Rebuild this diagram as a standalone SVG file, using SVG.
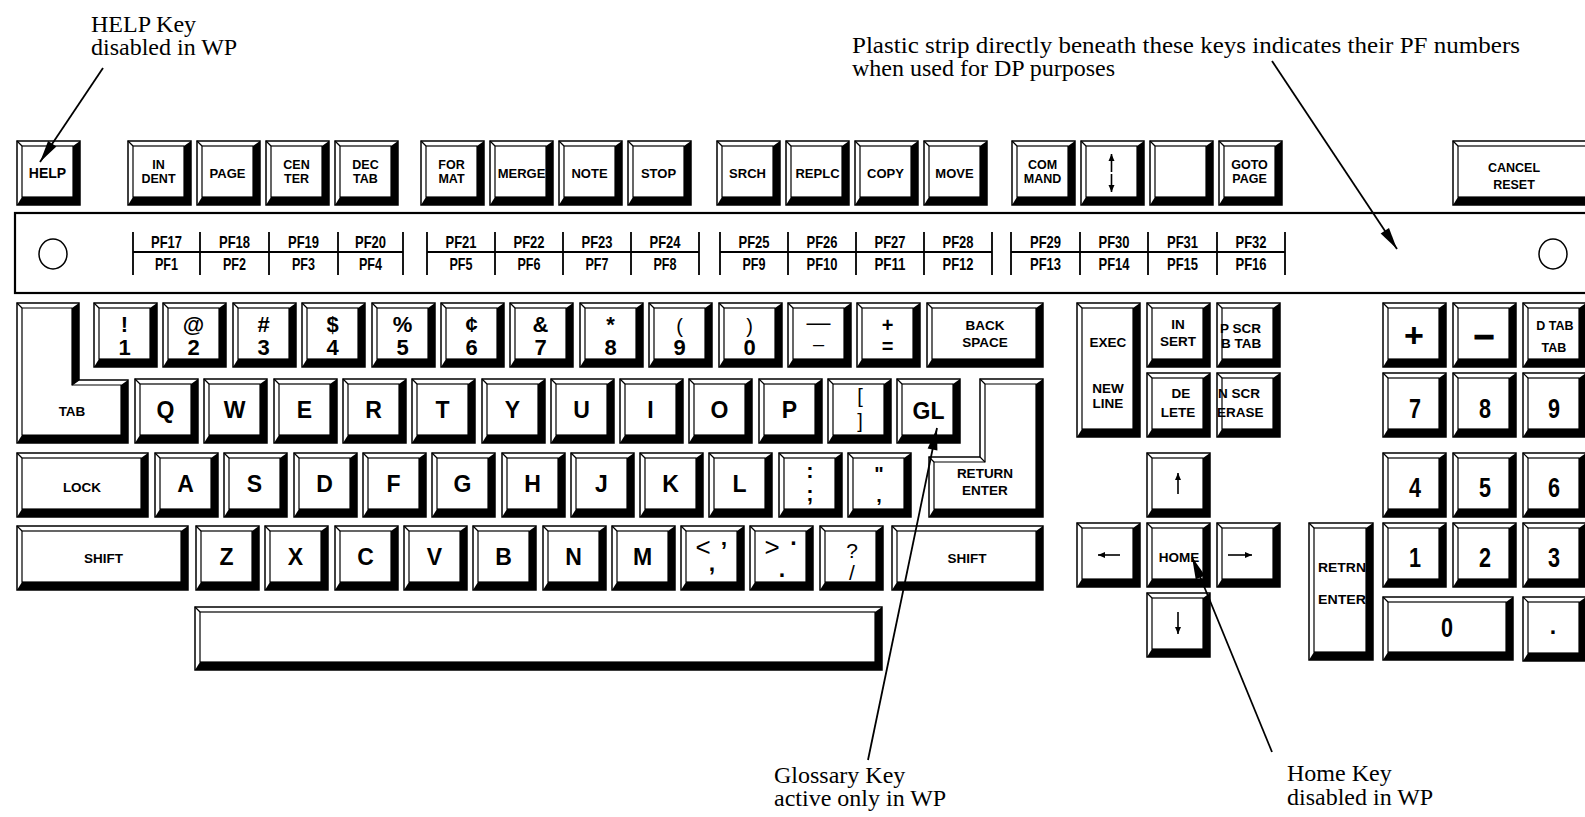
<svg xmlns="http://www.w3.org/2000/svg" width="1585" height="817" viewBox="0 0 1585 817">
<defs>
<style>
.o{fill:#fff;stroke:#000;stroke-width:1.5}
.s{fill:#000}
.f{fill:#fff;stroke:#000;stroke-width:1.2}
.d{stroke:#000;stroke-width:1.2;fill:none}
.t{font-family:"Liberation Sans",Arial,sans-serif;font-weight:bold;text-anchor:middle;fill:#000}
.st{text-anchor:start}
.L{font-size:23px}
.N{font-size:22px}
.G{font-size:23px}
.W{font-size:20px;font-weight:normal}
.S{font-size:12.5px}
.M{font-size:13px}
.T{font-size:13.5px}
.n{font-size:28px}
.pf{font-size:17px}
.c{font-family:"Liberation Serif","Times New Roman",serif;font-size:24px;fill:#000}
.ln{stroke:#000;stroke-width:1.8;fill:none}
.pl{stroke:#000;stroke-width:1.8;fill:none}
.ka{stroke:#000;stroke-width:1.6;fill:none}
</style>
<g id="k"><rect class="o" width="63" height="64"/><path class="s" d="M63,0V64H0L5,56H56V5Z"/><rect class="f" x="5" y="5" width="51" height="51"/><path class="d" d="M0,0L5,5"/></g>
<marker id="ar" markerUnits="userSpaceOnUse" viewBox="-23 -6 24 12" markerWidth="24" markerHeight="12" refX="0" refY="0" orient="auto"><path d="M0,0L-22,-5L-22,5Z" fill="#000"/></marker>
<marker id="sa" markerUnits="userSpaceOnUse" viewBox="-8 -4 9 8" markerWidth="9" markerHeight="8" refX="0" refY="0" orient="auto"><path d="M0,0L-7,-3L-7,3Z" fill="#000"/></marker>
</defs>
<rect width="1585" height="817" fill="#fff"/>

<g id="annotations">
<text class="c" x="91" y="32">HELP Key</text>
<text class="c" x="91" y="55">disabled in WP</text>
<text class="c" x="852" y="53" textLength="668" lengthAdjust="spacingAndGlyphs">Plastic strip directly beneath these keys indicates their PF numbers</text>
<text class="c" x="852" y="76">when used for DP purposes</text>
<text class="c" x="774" y="783">Glossary Key</text>
<text class="c" x="774" y="806">active only in WP</text>
<text class="c" x="1287" y="781">Home Key</text>
<text class="c" x="1287" y="805">disabled in WP</text>
</g>

<g id="strip">
<rect x="15" y="213" width="1600" height="80" fill="none" stroke="#000" stroke-width="2.2"/>
<ellipse cx="53" cy="254" rx="14" ry="15" fill="none" stroke="#000" stroke-width="1.5"/>
<ellipse cx="1553" cy="254" rx="14" ry="15" fill="none" stroke="#000" stroke-width="1.5"/>
<path class="pl" d="M133,252H403M133,232V275M200,232V275M269,232V275M338,232V275M403,232V275"/>
<path class="pl" d="M427,252H699M427,232V275M495,232V275M563,232V275M631,232V275M699,232V275"/>
<path class="pl" d="M720,252H992M720,232V275M788,232V275M856,232V275M924,232V275M992,232V275"/>
<path class="pl" d="M1011,252H1285M1011,232V275M1080,232V275M1148,232V275M1217,232V275M1285,232V275"/>
<g class="t pf">
<text x="166.5" y="248" textLength="31" lengthAdjust="spacingAndGlyphs">PF17</text><text x="166.5" y="270" textLength="23" lengthAdjust="spacingAndGlyphs">PF1</text>
<text x="234.5" y="248" textLength="31" lengthAdjust="spacingAndGlyphs">PF18</text><text x="234.5" y="270" textLength="23" lengthAdjust="spacingAndGlyphs">PF2</text>
<text x="303.5" y="248" textLength="31" lengthAdjust="spacingAndGlyphs">PF19</text><text x="303.5" y="270" textLength="23" lengthAdjust="spacingAndGlyphs">PF3</text>
<text x="370.5" y="248" textLength="31" lengthAdjust="spacingAndGlyphs">PF20</text><text x="370.5" y="270" textLength="23" lengthAdjust="spacingAndGlyphs">PF4</text>
<text x="461" y="248" textLength="31" lengthAdjust="spacingAndGlyphs">PF21</text><text x="461" y="270" textLength="23" lengthAdjust="spacingAndGlyphs">PF5</text>
<text x="529" y="248" textLength="31" lengthAdjust="spacingAndGlyphs">PF22</text><text x="529" y="270" textLength="23" lengthAdjust="spacingAndGlyphs">PF6</text>
<text x="597" y="248" textLength="31" lengthAdjust="spacingAndGlyphs">PF23</text><text x="597" y="270" textLength="23" lengthAdjust="spacingAndGlyphs">PF7</text>
<text x="665" y="248" textLength="31" lengthAdjust="spacingAndGlyphs">PF24</text><text x="665" y="270" textLength="23" lengthAdjust="spacingAndGlyphs">PF8</text>
<text x="754" y="248" textLength="31" lengthAdjust="spacingAndGlyphs">PF25</text><text x="754" y="270" textLength="23" lengthAdjust="spacingAndGlyphs">PF9</text>
<text x="822" y="248" textLength="31" lengthAdjust="spacingAndGlyphs">PF26</text><text x="822" y="270" textLength="31" lengthAdjust="spacingAndGlyphs">PF10</text>
<text x="890" y="248" textLength="31" lengthAdjust="spacingAndGlyphs">PF27</text><text x="890" y="270" textLength="31" lengthAdjust="spacingAndGlyphs">PF11</text>
<text x="958" y="248" textLength="31" lengthAdjust="spacingAndGlyphs">PF28</text><text x="958" y="270" textLength="31" lengthAdjust="spacingAndGlyphs">PF12</text>
<text x="1045.5" y="248" textLength="31" lengthAdjust="spacingAndGlyphs">PF29</text><text x="1045.5" y="270" textLength="31" lengthAdjust="spacingAndGlyphs">PF13</text>
<text x="1114" y="248" textLength="31" lengthAdjust="spacingAndGlyphs">PF30</text><text x="1114" y="270" textLength="31" lengthAdjust="spacingAndGlyphs">PF14</text>
<text x="1182.5" y="248" textLength="31" lengthAdjust="spacingAndGlyphs">PF31</text><text x="1182.5" y="270" textLength="31" lengthAdjust="spacingAndGlyphs">PF15</text>
<text x="1251" y="248" textLength="31" lengthAdjust="spacingAndGlyphs">PF32</text><text x="1251" y="270" textLength="31" lengthAdjust="spacingAndGlyphs">PF16</text>
</g>
</g>

<!-- top row -->
<g id="key-help"><use href="#k" x="17" y="141"/><text class="t" style="font-size:14px" x="47.5" y="178">HELP</text></g>
<g id="key-indent"><use href="#k" x="128" y="141"/><text class="t S" x="158.5" y="169">IN</text><text class="t S" x="158.5" y="183">DENT</text></g>
<g id="key-page"><use href="#k" x="197" y="141"/><text class="t M" x="227.5" y="178">PAGE</text></g>
<g id="key-center"><use href="#k" x="266" y="141"/><text class="t S" x="296.5" y="169">CEN</text><text class="t S" x="296.5" y="183">TER</text></g>
<g id="key-dectab"><use href="#k" x="335" y="141"/><text class="t S" x="365.5" y="169">DEC</text><text class="t S" x="365.5" y="183">TAB</text></g>
<g id="key-format"><use href="#k" x="421" y="141"/><text class="t S" x="451.5" y="169">FOR</text><text class="t S" x="451.5" y="183">MAT</text></g>
<g id="key-merge"><use href="#k" x="490" y="141"/><text class="t M" x="521.5" y="178">MERGE</text></g>
<g id="key-note"><use href="#k" x="559" y="141"/><text class="t M" x="589.5" y="178">NOTE</text></g>
<g id="key-stop"><use href="#k" x="628" y="141"/><text class="t M" x="658.5" y="178">STOP</text></g>
<g id="key-srch"><use href="#k" x="717" y="141"/><text class="t M" x="747.5" y="178">SRCH</text></g>
<g id="key-replc"><use href="#k" x="786" y="141"/><text class="t M" x="817.5" y="178">REPLC</text></g>
<g id="key-copy"><use href="#k" x="855" y="141"/><text class="t M" x="885.5" y="178">COPY</text></g>
<g id="key-move"><use href="#k" x="924" y="141"/><text class="t M" x="954.5" y="178">MOVE</text></g>
<g id="key-command"><use href="#k" x="1012" y="141"/><text class="t S" x="1042.5" y="169">COM</text><text class="t S" x="1042.5" y="183">MAND</text></g>
<g id="key-updown"><use href="#k" x="1081" y="141"/><path class="ka" d="M1111.5,172V154" marker-end="url(#sa)"/><path class="ka" d="M1111.5,174V192" marker-end="url(#sa)"/></g>
<g id="key-blank"><use href="#k" x="1150" y="141"/></g>
<g id="key-gotopage"><use href="#k" x="1219" y="141"/><text class="t S" x="1249.5" y="169">GOTO</text><text class="t S" x="1249.5" y="183">PAGE</text></g>
<g id="key-cancel"><rect class="o" x="1453" y="141" width="140" height="64"/><path class="s" d="M1593,141V205H1453L1458,197H1586V146Z"/><rect class="f" x="1458" y="146" width="128" height="51"/><path class="d" d="M1453,141L1458,146"/><text class="t S" x="1514" y="172">CANCEL</text><text class="t S" x="1514" y="189">RESET</text></g>

<!-- number row -->
<g id="key-tab"><path class="o" d="M17,303H79V380H128V443H17Z"/><path class="s" d="M79,303V380L72,385V308ZM128,380V443L121,435V385ZM17,443H128L121,435H22Z"/><path class="f" d="M22,308H72V385H121V435H22Z"/><path class="d" d="M17,303L22,308M79,380L72,385"/><text class="t T" x="72" y="416">TAB</text></g>
<g id="key-1"><use href="#k" x="94" y="303"/><text class="t N" x="124.5" y="332">!</text><text class="t N" x="124.5" y="355">1</text></g>
<g id="key-2"><use href="#k" x="163" y="303"/><text class="t N" x="193.5" y="332">@</text><text class="t N" x="193.5" y="355">2</text></g>
<g id="key-3"><use href="#k" x="233" y="303"/><text class="t N" x="263.5" y="332">#</text><text class="t N" x="263.5" y="355">3</text></g>
<g id="key-4"><use href="#k" x="302" y="303"/><text class="t N" x="332.5" y="332">$</text><text class="t N" x="332.5" y="355">4</text></g>
<g id="key-5"><use href="#k" x="372" y="303"/><text class="t N" x="402.5" y="332">%</text><text class="t N" x="402.5" y="355">5</text></g>
<g id="key-6"><use href="#k" x="441" y="303"/><text class="t N" x="471.5" y="332">¢</text><text class="t N" x="471.5" y="355">6</text></g>
<g id="key-7"><use href="#k" x="510" y="303"/><text class="t N" x="540.5" y="332">&amp;</text><text class="t N" x="540.5" y="355">7</text></g>
<g id="key-8"><use href="#k" x="580" y="303"/><text class="t N" x="610.5" y="332">*</text><text class="t N" x="610.5" y="355">8</text></g>
<g id="key-9"><use href="#k" x="649" y="303"/><text class="t W" x="679.5" y="333">(</text><text class="t N" x="679.5" y="355">9</text></g>
<g id="key-0"><use href="#k" x="719" y="303"/><text class="t W" x="749.5" y="333">)</text><text class="t N" x="749.5" y="355">0</text></g>
<g id="key-minus"><use href="#k" x="788" y="303"/><text class="t W" style="font-size:24px" x="818.5" y="330">—<tspan x="818.5" y="351" style="font-size:20px">–</tspan></text></g>
<g id="key-equal"><use href="#k" x="857" y="303"/><text class="t" style="font-size:20px" x="887.5" y="332">+</text><text class="t" style="font-size:20px" x="887.5" y="353">=</text></g>
<g id="key-backspace"><rect class="o" x="927" y="303" width="116" height="64"/><path class="s" d="M1043,303V367H927L932,359H1036V308Z"/><rect class="f" x="932" y="308" width="104" height="51"/><path class="d" d="M927,303L932,308"/><text class="t T" x="985" y="330">BACK</text><text class="t T" x="985" y="347">SPACE</text></g>

<!-- Q row -->
<g id="key-q"><use href="#k" x="135" y="379"/><text class="t L" x="165.5" y="418">Q</text></g>
<g id="key-w"><use href="#k" x="204" y="379"/><text class="t L" x="234.5" y="418">W</text></g>
<g id="key-e"><use href="#k" x="274" y="379"/><text class="t L" x="304.5" y="418">E</text></g>
<g id="key-r"><use href="#k" x="343" y="379"/><text class="t L" x="373.5" y="418">R</text></g>
<g id="key-t"><use href="#k" x="412" y="379"/><text class="t L" x="442.5" y="418">T</text></g>
<g id="key-y"><use href="#k" x="482" y="379"/><text class="t L" x="512.5" y="418">Y</text></g>
<g id="key-u"><use href="#k" x="551" y="379"/><text class="t L" x="581.5" y="418">U</text></g>
<g id="key-i"><use href="#k" x="620" y="379"/><text class="t L" x="650.5" y="418">I</text></g>
<g id="key-o"><use href="#k" x="689" y="379"/><text class="t L" x="719.5" y="418">O</text></g>
<g id="key-p"><use href="#k" x="759" y="379"/><text class="t L" x="789.5" y="418">P</text></g>
<g id="key-bracket"><use href="#k" x="828" y="379"/><text class="t W" x="860" y="403">[<tspan x="860" y="428">]</tspan></text></g>
<g id="key-gl"><use href="#k" x="897" y="379"/><text class="t G" x="928.5" y="419">GL</text></g>
<g id="key-return"><path class="o" d="M980,379H1043V517H929V457H980Z"/><path class="s" d="M1043,379V517L1036,509V384ZM929,517H1043L1036,509H934Z"/><path class="f" d="M985,384H1036V509H934V462H985Z"/><path class="d" d="M980,379L985,384M929,457L934,462M980,457L985,462"/><text class="t T" x="985" y="478">RETURN</text><text class="t T" x="985" y="495">ENTER</text></g>

<!-- A row -->
<g id="key-lock"><rect class="o" x="17" y="453" width="131" height="64"/><path class="s" d="M148,453V517H17L22,509H141V458Z"/><rect class="f" x="22" y="458" width="119" height="51"/><path class="d" d="M17,453L22,458"/><text class="t T" x="82" y="492">LOCK</text></g>
<g id="key-a"><use href="#k" x="155" y="453"/><text class="t L" x="185.5" y="492">A</text></g>
<g id="key-s"><use href="#k" x="224" y="453"/><text class="t L" x="254.5" y="492">S</text></g>
<g id="key-d"><use href="#k" x="294" y="453"/><text class="t L" x="324.5" y="492">D</text></g>
<g id="key-f"><use href="#k" x="363" y="453"/><text class="t L" x="393.5" y="492">F</text></g>
<g id="key-g"><use href="#k" x="432" y="453"/><text class="t L" x="462.5" y="492">G</text></g>
<g id="key-h"><use href="#k" x="502" y="453"/><text class="t L" x="532.5" y="492">H</text></g>
<g id="key-j"><use href="#k" x="571" y="453"/><text class="t L" x="601.5" y="492">J</text></g>
<g id="key-k"><use href="#k" x="640" y="453"/><text class="t L" x="670.5" y="492">K</text></g>
<g id="key-l"><use href="#k" x="709" y="453"/><text class="t L" x="739.5" y="492">L</text></g>
<g id="key-colon"><use href="#k" x="779" y="453"/><text class="t N" x="810" y="478">:<tspan x="810" y="501">;</tspan></text></g>
<g id="key-quote"><use href="#k" x="848" y="453"/><text class="t" style="font-size:20px" x="879" y="481">"</text><text class="t" style="font-size:20px" x="879" y="502">,</text></g>

<!-- Z row -->
<g id="key-lshift"><rect class="o" x="17" y="526" width="171" height="64"/><path class="s" d="M188,526V590H17L22,582H181V531Z"/><rect class="f" x="22" y="531" width="159" height="51"/><path class="d" d="M17,526L22,531"/><text class="t T" x="103.5" y="563">SHIFT</text></g>
<g id="key-z"><use href="#k" x="196" y="526"/><text class="t L" x="226.5" y="565">Z</text></g>
<g id="key-x"><use href="#k" x="265" y="526"/><text class="t L" x="295.5" y="565">X</text></g>
<g id="key-c"><use href="#k" x="335" y="526"/><text class="t L" x="365.5" y="565">C</text></g>
<g id="key-v"><use href="#k" x="404" y="526"/><text class="t L" x="434.5" y="565">V</text></g>
<g id="key-b"><use href="#k" x="473" y="526"/><text class="t L" x="503.5" y="565">B</text></g>
<g id="key-n"><use href="#k" x="543" y="526"/><text class="t L" x="573.5" y="565">N</text></g>
<g id="key-m"><use href="#k" x="612" y="526"/><text class="t L" x="642.5" y="565">M</text></g>
<g id="key-comma"><use href="#k" x="681" y="526"/><text class="t W" style="font-size:26px" x="703" y="556">&lt;</text><text class="t G" x="724" y="559">’</text><text class="t G" x="712" y="571">,</text></g>
<g id="key-period"><use href="#k" x="750" y="526"/><text class="t W" style="font-size:26px" x="772" y="556">&gt;</text><text class="t G" x="794" y="551">·</text><text class="t G" x="782" y="577">.</text></g>
<g id="key-slash"><use href="#k" x="820" y="526"/><text class="t W" style="font-size:21px" x="852" y="558">?<tspan x="852" y="580">/</tspan></text></g>
<g id="key-rshift"><rect class="o" x="892" y="526" width="151" height="64"/><path class="s" d="M1043,526V590H892L897,582H1036V531Z"/><rect class="f" x="897" y="531" width="139" height="51"/><path class="d" d="M892,526L897,531"/><text class="t T" x="967" y="563">SHIFT</text></g>

<g id="key-space"><rect class="o" x="195" y="607" width="687" height="63"/><path class="s" d="M882,607V670H195L200,662H875V612Z"/><rect class="f" x="200" y="612" width="675" height="50"/><path class="d" d="M195,607L200,612"/></g>

<!-- editing block -->
<g id="key-exec"><rect class="o" x="1077" y="303" width="63" height="134"/><path class="s" d="M1140,303V437H1077L1082,429H1133V308Z"/><rect class="f" x="1082" y="308" width="51" height="121"/><path class="d" d="M1077,303L1082,308"/><text class="t T" x="1108" y="347">EXEC</text><text class="t T" x="1108" y="393">NEW</text><text class="t T" x="1108" y="408">LINE</text></g>
<g id="key-insert"><use href="#k" x="1147" y="303"/><text class="t T" x="1178" y="329">IN</text><text class="t T" x="1178" y="346">SERT</text></g>
<g id="key-pscr"><use href="#k" x="1217" y="303"/><text class="t T st" x="1220" y="333">P SCR</text><text class="t T st" x="1221" y="348">B TAB</text></g>
<g id="key-delete"><use href="#k" x="1147" y="373"/><text class="t T" x="1181" y="398">DE</text><text class="t T" x="1178" y="417">LETE</text></g>
<g id="key-nscr"><use href="#k" x="1217" y="373"/><text class="t T st" x="1218" y="398">N SCR</text><text class="t T st" x="1217" y="417">ERASE</text></g>
<g id="key-up"><use href="#k" x="1147" y="453"/><path class="ka" d="M1178,494V473" marker-end="url(#sa)"/></g>
<g id="key-left"><use href="#k" x="1077" y="523"/><path class="ka" d="M1120,555H1098" marker-end="url(#sa)"/></g>
<g id="key-home"><use href="#k" x="1147" y="523"/><text class="t T" x="1179" y="562">HOME</text></g>
<g id="key-right"><use href="#k" x="1217" y="523"/><path class="ka" d="M1228,555H1252" marker-end="url(#sa)"/></g>
<g id="key-down"><use href="#k" x="1147" y="593"/><path class="ka" d="M1178,612V634" marker-end="url(#sa)"/></g>

<!-- numeric pad -->
<g id="key-np-plus"><use href="#k" x="1383" y="303"/><text class="t" style="font-size:34px" x="1414" y="347">+</text></g>
<g id="key-np-minus"><use href="#k" x="1453" y="303"/><text class="t" style="font-size:36px;stroke:#000;stroke-width:1.2" x="1484" y="347">–</text></g>
<g id="key-np-dtab"><use href="#k" x="1523" y="303"/><text class="t S" x="1555" y="330">D TAB</text><text class="t S" x="1554" y="352">TAB</text></g>
<g id="key-np-7"><use href="#k" x="1383" y="373"/><text class="t n" x="1415" y="418" textLength="12" lengthAdjust="spacingAndGlyphs">7</text></g>
<g id="key-np-8"><use href="#k" x="1453" y="373"/><text class="t n" x="1485" y="418" textLength="12" lengthAdjust="spacingAndGlyphs">8</text></g>
<g id="key-np-9"><use href="#k" x="1523" y="373"/><text class="t n" x="1554" y="418" textLength="12" lengthAdjust="spacingAndGlyphs">9</text></g>
<g id="key-np-4"><use href="#k" x="1383" y="453"/><text class="t n" x="1415" y="497" textLength="12" lengthAdjust="spacingAndGlyphs">4</text></g>
<g id="key-np-5"><use href="#k" x="1453" y="453"/><text class="t n" x="1485" y="497" textLength="12" lengthAdjust="spacingAndGlyphs">5</text></g>
<g id="key-np-6"><use href="#k" x="1523" y="453"/><text class="t n" x="1554" y="497" textLength="12" lengthAdjust="spacingAndGlyphs">6</text></g>
<g id="key-np-1"><use href="#k" x="1383" y="523"/><text class="t n" x="1415" y="567" textLength="12" lengthAdjust="spacingAndGlyphs">1</text></g>
<g id="key-np-2"><use href="#k" x="1453" y="523"/><text class="t n" x="1485" y="567" textLength="12" lengthAdjust="spacingAndGlyphs">2</text></g>
<g id="key-np-3"><use href="#k" x="1523" y="523"/><text class="t n" x="1554" y="567" textLength="12" lengthAdjust="spacingAndGlyphs">3</text></g>
<g id="key-np-enter"><rect class="o" x="1309" y="523" width="64" height="137"/><path class="s" d="M1373,523V660H1309L1314,652H1366V528Z"/><rect class="f" x="1314" y="528" width="52" height="124"/><path class="d" d="M1309,523L1314,528"/><text class="t T st" x="1318" y="572" textLength="48" lengthAdjust="spacingAndGlyphs">RETRN</text><text class="t T st" x="1318" y="604" textLength="48" lengthAdjust="spacingAndGlyphs">ENTER</text></g>
<g id="key-np-0"><rect class="o" x="1383" y="597" width="130" height="63"/><path class="s" d="M1513,597V660H1383L1388,652H1506V602Z"/><rect class="f" x="1388" y="602" width="118" height="50"/><path class="d" d="M1383,597L1388,602"/><text class="t n" x="1447" y="637" textLength="12" lengthAdjust="spacingAndGlyphs">0</text></g>
<g id="key-np-dot"><use href="#k" x="1523" y="597"/><text class="t G" x="1553" y="634">.</text></g>

<g id="connectors">
<path class="ln" d="M103,68L40,162" marker-end="url(#ar)"/>
<path class="ln" d="M1272,61L1397,249" marker-end="url(#ar)"/>
<path class="ln" d="M868,760L937,428" marker-end="url(#ar)"/>
<path class="ln" d="M1272,752L1192,557" marker-end="url(#ar)"/>
</g>
</svg>
